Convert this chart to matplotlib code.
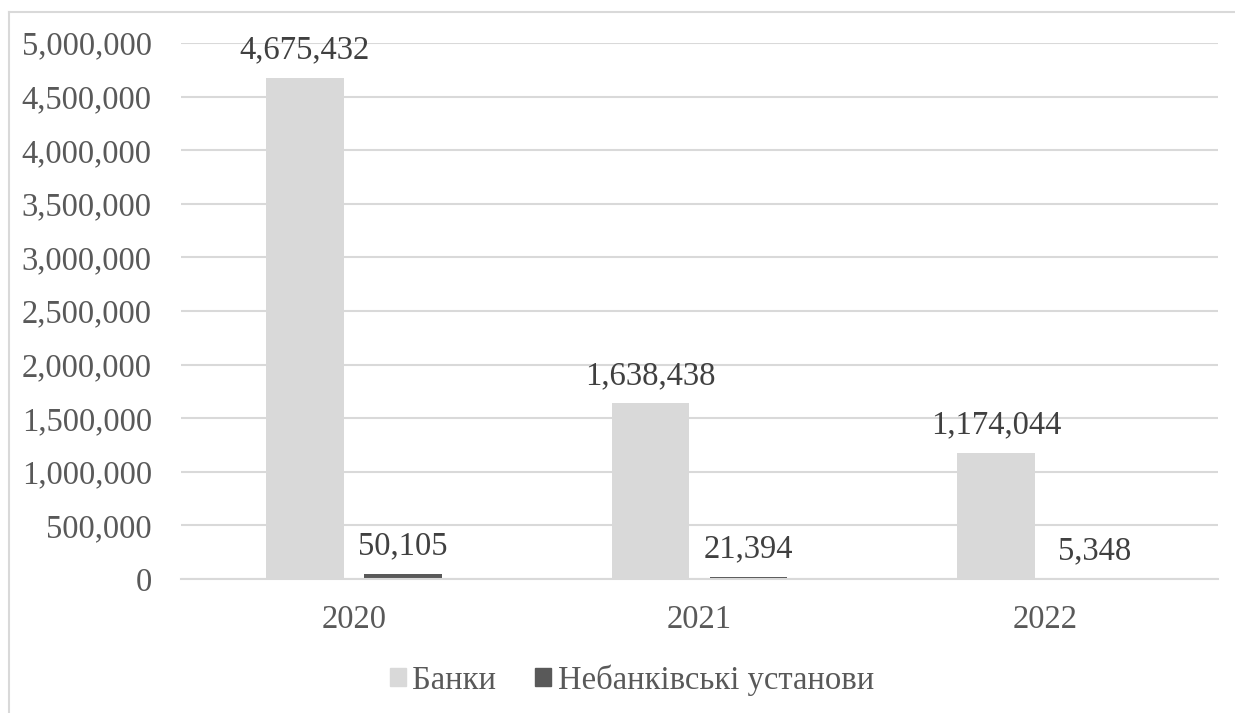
import numpy as np
import matplotlib.pyplot as plt
from matplotlib.lines import Line2D
from matplotlib.patches import Patch

years = ["2020", "2021", "2022"]
banks = [4675432, 1638438, 1174044]
nonbanks = [50105, 21394, 5348]
series_names = ["Банки", "Небанківські установи"]

plt.rcParams['font.family'] = ['Liberation Serif', 'DejaVu Serif']
txt = "#595959"
grid_c = "#d9d9d9"
fs = 23.5

fig = plt.figure(figsize=(12.35, 7.13), dpi=100)
ax = fig.add_axes([181/1235, 1 - 579/713, (1218-181)/1235, (579-43)/713])

x = np.arange(len(years))
w = 0.225
off = 0.142
b1 = ax.bar(x - off, banks, w, color="#d9d9d9", label=series_names[0], zorder=2)
b2 = ax.bar(x + off, nonbanks, w, color="#595959", label=series_names[1], zorder=2)

for bars, vals in [(b1, banks), (b2, nonbanks)]:
    for r, v in zip(bars, vals):
        ax.annotate(f"{v:,}", (r.get_x() + r.get_width() / 2, v),
                    xytext=(0, 9), textcoords="offset points",
                    ha="center", va="bottom", fontsize=fs, color="#404040")

ax.set_xlim(-0.5, 2.5)
ax.set_ylim(0, 5000000)
ax.set_yticks(np.arange(0, 5000001, 500000))
ax.set_yticklabels([f"{int(t):,}" for t in np.arange(0, 5000001, 500000)])
ax.set_xticks(x)
ax.set_xticklabels(years)
ax.tick_params(axis="both", length=0, labelsize=fs, labelcolor=txt)
ax.tick_params(axis="y", pad=21)
ax.tick_params(axis="x", pad=18)
ax.yaxis.grid(True, color=grid_c, linewidth=1.5, zorder=0)
for s in ["top", "right", "left"]:
    ax.spines[s].set_visible(False)
ax.spines["bottom"].set_color(grid_c)
ax.spines["bottom"].set_linewidth(1.5)

handles = [Patch(color="#d9d9d9"), Patch(color="#595959")]
fig.legend(handles, series_names, loc="center", bbox_to_anchor=(632/1235, 1 - 680/713),
           ncol=2, frameon=False, fontsize=fs, labelcolor=txt,
           handlelength=0.49, handleheight=0.49, handletextpad=0.2, columnspacing=1.2)

# chart frame (left and top edges visible)
fig.add_artist(Line2D([8.5/1235, 8.5/1235], [0, 1 - 12/713], transform=fig.transFigure,
                      color=grid_c, linewidth=1.5))
fig.add_artist(Line2D([8.5/1235, 1], [1 - 12/713, 1 - 12/713], transform=fig.transFigure,
                      color=grid_c, linewidth=1.5))

fig.savefig("out.png", dpi=100)
